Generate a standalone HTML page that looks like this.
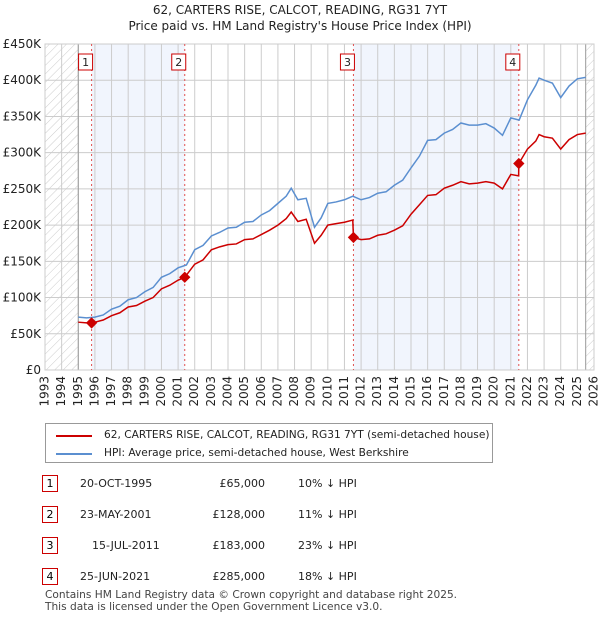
<!DOCTYPE html>
<html><head><meta charset="utf-8"><style>
body{margin:0;background:#fff;font-family:"DejaVu Sans","Liberation Sans",sans-serif;}
.wrap{position:relative;width:600px;height:620px;overflow:hidden;}
.t{position:absolute;font-size:11px;color:#222;white-space:nowrap;}
.num{position:absolute;width:14px;height:15px;border:1px solid #c00;background:#fff;font-size:11px;text-align:center;line-height:15px;}
svg text{font-family:"DejaVu Sans","Liberation Sans",sans-serif;}
</style></head><body><div class="wrap">
<svg id="c" width="600" height="620" style="position:absolute;left:0;top:0">
<defs><pattern id="h" width="6" height="6" patternUnits="userSpaceOnUse" patternTransform="rotate(45)"><line x1="0" y1="0" x2="0" y2="6" stroke="#ccc" stroke-width="1"/></pattern></defs>
<text x="300" y="14" text-anchor="middle" font-size="12" fill="#222">62, CARTERS RISE, CALCOT, READING, RG31 7YT</text>
<text x="300" y="30" text-anchor="middle" font-size="12" fill="#222">Price paid vs. HM Land Registry's House Price Index (HPI)</text>
<g id="g"></g>
</svg>
<div style="position:absolute;left:45px;top:423px;width:446px;height:38px;border:1px solid #999;">
<div style="position:absolute;left:10px;top:11px;width:36px;height:2px;background:#c00"></div>
<div class="t" style="left:58px;top:5px;font-size:10.6px">62, CARTERS RISE, CALCOT, READING, RG31 7YT (semi-detached house)</div>
<div style="position:absolute;left:10px;top:29px;width:36px;height:2px;background:#5b8fd0"></div>
<div class="t" style="left:58px;top:23px;font-size:10.6px">HPI: Average price, semi-detached house, West Berkshire</div>
</div>
<div id="tbl"></div>
<div class="t" style="left:45px;top:589px;font-size:10.6px;color:#444;line-height:12px">Contains HM Land Registry data © Crown copyright and database right 2025.<br>This data is licensed under the Open Government Licence v3.0.</div>
</div>
<script>
const years=[1993,1994,1995,1996,1997,1998,1999,2000,2001,2002,2003,2004,2005,2006,2007,2008,2009,2010,2011,2012,2013,2014,2015,2016,2017,2018,2019,2020,2021,2022,2023,2024,2025,2026];
const yTicks=[0,50000,100000,150000,200000,250000,300000,350000,400000,450000];
const yLabels=["£0","£50K","£100K","£150K","£200K","£250K","£300K","£350K","£400K","£450K"];
const hpiT=[1995,1995.5,1996,1996.5,1997,1997.5,1998,1998.5,1999,1999.5,2000,2000.5,2001,2001.5,2002,2002.5,2003,2003.5,2004,2004.5,2005,2005.5,2006,2006.5,2007,2007.5,2007.8,2008.2,2008.7,2009.2,2009.6,2010,2010.5,2011,2011.5,2012,2012.5,2013,2013.5,2014,2014.5,2015,2015.5,2016,2016.5,2017,2017.5,2018,2018.5,2019,2019.5,2020,2020.5,2021,2021.5,2022,2022.5,2022.7,2023,2023.5,2024,2024.5,2025,2025.5];
const hpiV=[73,72,73,76,84,88,97,100,108,114,128,133,141,145,166,172,185,190,196,197,204,205,214,220,230,240,251,235,237,197,210,230,232,235,240,235,238,244,246,255,262,279,295,317,318,327,332,341,338,338,340,334,324,348,345,373,393,403,400,396,376,392,402,404];
const ppT=[1995,1995.5,1995.8,1996,1996.5,1997,1997.5,1998,1998.5,1999,1999.5,2000,2000.5,2001,2001.4,2002,2002.5,2003,2003.5,2004,2004.5,2005,2005.5,2006,2006.5,2007,2007.5,2007.8,2008.2,2008.7,2009.2,2009.6,2010,2010.5,2011,2011.5,2011.54,2012,2012.5,2013,2013.5,2014,2014.5,2015,2015.5,2016,2016.5,2017,2017.5,2018,2018.5,2019,2019.5,2020,2020.5,2021,2021.47,2021.48,2022,2022.5,2022.7,2023,2023.5,2024,2024.5,2025,2025.5];
const ppV=[66,65,65,66,69,75,79,87,89,95,100,112,117,124,128,146,152,166,170,173,174,180,181,187,193,200,209,218,205,208,175,186,200,202,204,207,183,180,181,186,188,193,199,215,228,241,242,251,255,260,257,258,260,258,250,270,268,285,305,316,325,322,320,305,318,325,327];
const saleT=[1995.8,2001.4,2011.54,2021.48];
const saleV=[65000,128000,183000,285000];
const saleLbl=["1","2","3","4"];
const rowDate=["20-OCT-1995","23-MAY-2001","15-JUL-2011","25-JUN-2021"];
const rowPrice=["£65,000","£128,000","£183,000","£285,000"];
const rowPct=["10% ↓ HPI","11% ↓ HPI","23% ↓ HPI","18% ↓ HPI"];
const X0=45,X1=594,Y0=370,Y1=44;
const xs=t=>X0+(t-1993)/33*(X1-X0);
const ys=v=>Y0-v/450000*(Y0-Y1);
const NS="http://www.w3.org/2000/svg";
const g=document.getElementById('g');
function mk(tag,a){const e=document.createElementNS(NS,tag);for(const k in a)e.setAttribute(k,a[k]);g.appendChild(e);return e;}
for(let i=0;i<4;i+=2){const r=mk('rect',{x:xs(saleT[i]),y:Y1,width:xs(saleT[i+1])-xs(saleT[i]),height:Y0-Y1,fill:'#eef3fc',opacity:0.8});

}
let hz=mk('rect',{x:X0,y:Y1,width:xs(1995)-X0,height:Y0-Y1,fill:'url(#h)'});


hz=mk('rect',{x:xs(2025.5),y:Y1,width:X1-xs(2025.5),height:Y0-Y1,fill:'url(#h)'});


years.forEach((y,i)=>{mk('line',{x1:xs(y),x2:xs(y),y1:Y1,y2:Y0,stroke:'#ccc'});
const t=mk('text',{x:xs(y),y:Y0+6,'font-size':12,fill:'#222','text-anchor':'end',transform:`rotate(-90 ${xs(y)} ${Y0+6})`,'dominant-baseline':'middle'});t.textContent=y;

});
yTicks.forEach((v,i)=>{mk('line',{x1:X0,x2:X1,y1:ys(v),y2:ys(v),stroke:'#ccc'});
const t=mk('text',{x:X0-4,y:ys(v)+4,'font-size':12,fill:'#222','text-anchor':'end'});t.textContent=yLabels[i];

});
mk('line',{x1:xs(1995),x2:xs(1995),y1:Y1,y2:Y0,stroke:'#999'});
mk('line',{x1:xs(2025.5),x2:xs(2025.5),y1:Y1,y2:Y0,stroke:'#999'});
mk('rect',{x:X0,y:Y1,width:X1-X0,height:Y0-Y1,fill:'none',stroke:'#ccc'});
saleT.forEach((t,i)=>{mk('line',{x1:xs(t),x2:xs(t),y1:Y1,y2:Y0,stroke:'#e05050','stroke-dasharray':'2,3'});
const b=mk('rect',{x:xs(t)-13,y:54,width:14,height:16,fill:'#fff',stroke:'#c00'});


const tx=mk('text',{x:xs(t)-6,y:66,'font-size':11,'text-anchor':'middle',fill:'#222'});tx.textContent=saleLbl[i];});
const line=(T,V,c,n)=>{const p=mk('polyline',{points:T.map((t,i)=>xs(t)+','+ys(V[i]*1000)).join(' '),fill:'none',stroke:c,'stroke-width':1.5});

};
line(hpiT,hpiV,'#5b8fd0','hpi-line');
line(ppT,ppV,'#cc0000','price-paid-line');
saleT.forEach((t,i)=>{const d=mk('rect',{x:xs(t)-4,y:ys(saleV[i])-4,width:8,height:8,fill:'#cc0000',transform:`rotate(45 ${xs(t)} ${ys(saleV[i])})`});

});
const tb=document.getElementById('tbl');
rowDate.forEach((d,i)=>{const y=475+i*31;
const r=document.createElement('div');


r.innerHTML=`<div class="num" style="left:42px;top:${y}px">${saleLbl[i]}</div><div class="t" style="left:${i==2?92:80}px;top:${y+2}px">${d}</div><div class="t" style="left:190px;width:75px;text-align:right;top:${y+2}px">${rowPrice[i]}</div><div class="t" style="left:298px;top:${y+2}px">${rowPct[i]}</div>`;
tb.appendChild(r);});
</script></body></html>
